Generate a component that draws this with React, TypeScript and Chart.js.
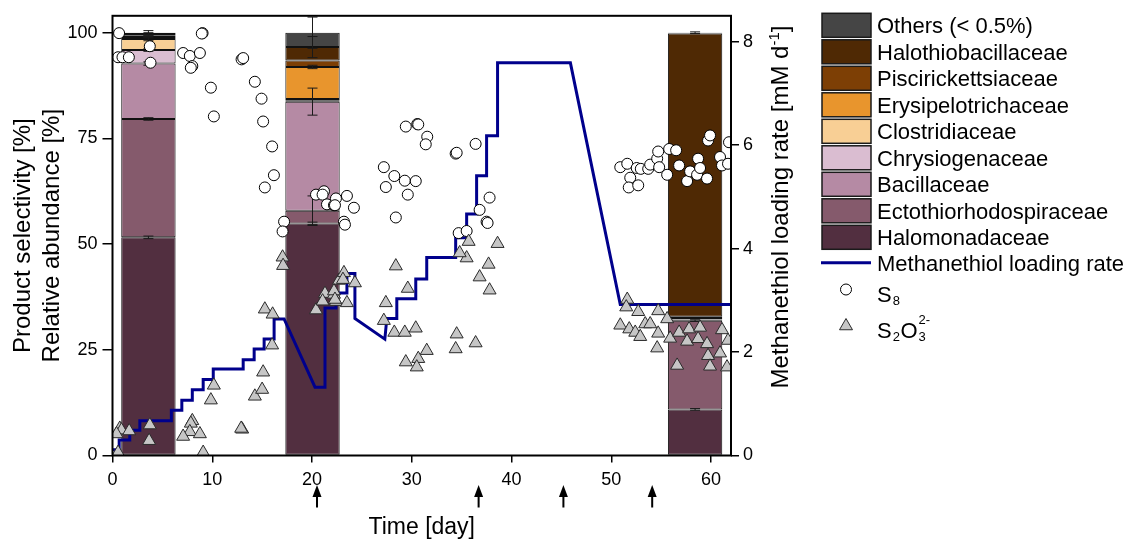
import React, { useEffect, useRef } from 'react';
import { Chart, registerables } from 'chart.js';

Chart.register(...registerables);

// ---------------- data ----------------
const barDays = [3.6, 20.05, 58.4];

const familyNames = [
  'Halomonadaceae',
  'Ectothiorhodospiraceae',
  'Bacillaceae',
  'Chrysiogenaceae',
  'Clostridiaceae',
  'Erysipelotrichaceae',
  'Piscirickettsiaceae',
  'Halothiobacillaceae',
  'Others (< 0.5%)',
];

const halomonadaceae = [51.6, 54.9, 10.9];
const ectothiorhodospiraceae = [28.0, 3.0, 21.0];
const bacillaceae = [13.1, 25.8, 0.2];
const chrysiogenaceae = [3.2, 0.3, 0.1];
const clostridiaceae = [2.6, 0.3, 0.1];
const erysipelotrichaceae = [0.5, 7.6, 0.2];
const piscirickettsiaceae = [0.3, 1.5, 0.3];
const halothiobacillaceae = [0.4, 3.2, 67.0];
const others = [0.3, 3.4, 0.2];

const halomonadaceaeErr = [0.3, 0.3, 0.2];
const ectothiorhodospiraceaeErr = [0.3, 3.5, 0.2];
const bacillaceaeErr = [0.4, 3.2, 0];
const chrysiogenaceaeErr = [0.3, 0, 0];
const clostridiaceaeErr = [0.4, 0, 0];
const erysipelotrichaceaeErr = [0.2, 0.4, 0];
const piscirickettsiaceaeErr = [0.2, 0, 0];
const halothiobacillaceaeErr = [0.3, 2.5, 0];
const othersErr = [0.5, 3.7, 0.2];

const loadingDays = [0, 0.67, 0.67, 1.73, 1.73, 2.74, 2.74, 5.9, 5.9, 6.95, 6.95, 8.0, 8.0, 9.09, 9.09, 10.1, 10.1, 13.1, 13.1, 14.2, 14.2, 15.2, 15.2, 16.2, 16.2, 17.2, 20.3, 21.3, 21.3, 22.4, 22.4, 23.5, 23.5, 24.3, 24.3, 27.3, 27.5, 28.5, 28.5, 30.4, 30.4, 31.5, 31.5, 34.4, 34.4, 35.5, 35.5, 36.5, 36.5, 37.5, 37.5, 38.6, 38.6, 45.9, 50.9, 62];
const loadingRate = [0.11, 0.11, 0.30, 0.30, 0.49, 0.49, 0.67, 0.67, 0.875, 0.875, 1.07, 1.07, 1.27, 1.27, 1.47, 1.47, 1.67, 1.67, 1.85, 1.85, 2.06, 2.06, 2.25, 2.25, 2.64, 2.64, 1.32, 1.32, 2.85, 2.85, 3.14, 3.14, 3.52, 3.52, 2.65, 2.25, 2.65, 2.65, 3.03, 3.03, 3.41, 3.41, 3.83, 3.83, 4.21, 4.21, 4.67, 4.67, 5.41, 5.41, 6.18, 6.18, 7.59, 7.59, 2.92, 2.92];

const s8Days = [0.66, 0.56, 1.0, 1.64, 3.74, 3.81, 9.03, 8.95, 7.08, 7.75, 8.76, 8.0, 7.85, 9.86, 10.16, 12.94, 13.1, 14.27, 14.94, 15.1, 16.0, 16.18, 15.27, 17.2, 17.05, 20.4, 21.2, 21.06, 21.5, 22.2, 22.4, 23.5, 22.3, 24.2, 23.2, 23.3, 29.4, 30.55, 30.65, 31.55, 31.4, 27.2, 28.25, 29.3, 30.4, 27.4, 29.6, 28.4, 34.4, 34.5, 36.4, 37.8, 36.8, 37.5, 37.6, 34.7, 35.5, 50.9, 51.6, 51.9, 51.75, 52.7, 52.55, 52.96, 53.7, 53.9, 54.6, 54.7, 54.8, 55.6, 55.8, 56.5, 56.8, 57.6, 57.9, 58.6, 58.7, 58.9, 59.6, 59.7, 59.9, 60.9, 61.1, 61.8, 61.7];
const s8Values = [99.9, 94.2, 94.2, 94.2, 96.8, 92.9, 99.9, 99.8, 95.2, 94.5, 95.2, 92.1, 91.7, 87.0, 80.2, 93.7, 94.0, 88.4, 84.4, 79.0, 73.1, 66.3, 63.4, 55.3, 53.0, 61.7, 62.5, 61.7, 59.4, 59.2, 60.8, 61.4, 59.2, 58.6, 55.3, 54.6, 77.8, 78.4, 78.3, 75.4, 73.6, 68.2, 66.1, 65.0, 64.9, 63.5, 61.7, 56.3, 71.4, 71.6, 73.7, 61.0, 58.1, 55.3, 55.0, 52.6, 53.1, 68.2, 69.0, 65.7, 63.4, 63.9, 68.0, 67.8, 67.8, 68.8, 70.2, 71.9, 68.2, 66.4, 72.5, 72.2, 68.6, 64.9, 67.2, 66.4, 70.2, 68.0, 65.5, 74.5, 75.7, 70.6, 68.6, 74.1, 69.0];

const s2o3Days = [0.73, 0.9, 0.4, 1.67, 0.56, 3.74, 3.67, 8.0, 7.85, 7.75, 8.76, 7.08, 9.09, 9.86, 10.16, 13.0, 12.9, 14.27, 15.0, 15.1, 15.27, 16.05, 16.0, 17.05, 17.1, 20.4, 21.3, 21.06, 22.2, 22.4, 22.7, 23.2, 23.1, 24.3, 22.2, 22.3, 23.5, 28.4, 29.6, 27.4, 27.2, 28.25, 29.3, 30.4, 31.5, 29.4, 30.65, 30.5, 34.5, 34.4, 36.4, 35.7, 35.5, 34.8, 38.6, 37.7, 36.8, 37.8, 51.6, 51.5, 52.7, 50.9, 51.8, 52.4, 52.9, 53.4, 53.9, 54.7, 55.6, 54.7, 55.9, 54.6, 56.8, 57.8, 58.9, 57.6, 58.7, 59.6, 61.1, 61.7, 59.7, 60.9, 56.6, 59.9, 61.6];
const s2o3Values = [6.4, 6.0, 5.1, 5.8, 0.7, 7.2, 3.5, 8.2, 7.6, 5.6, 5.1, 4.5, 0.7, 13.1, 16.6, 6.2, 6.4, 14.0, 15.6, 19.7, 34.6, 33.4, 26.1, 46.9, 44.9, 34.4, 38.3, 36.5, 38.1, 36.4, 41.4, 43.2, 41.6, 40.8, 38.9, 36.9, 36.1, 44.8, 39.5, 36.1, 31.9, 29.1, 29.1, 30.1, 24.8, 22.1, 22.9, 20.9, 28.7, 25.2, 26.6, 50.6, 46.7, 47.9, 50.1, 45.2, 42.2, 39.1, 36.9, 35.1, 34.0, 30.8, 29.9, 29.1, 28.1, 31.1, 31.1, 34.2, 32.3, 28.9, 27.7, 25.4, 29.1, 29.9, 30.3, 27.0, 27.6, 26.4, 29.7, 27.2, 23.6, 24.2, 21.3, 21.1, 20.9];

const arrowDays = [20.5, 36.7, 45.2, 54.1];

const xTickStep = 10;
const yTickStep = 25;
const y1TickStep = 2;

// ---------------- styles ----------------
const familyValues = [halomonadaceae, ectothiorhodospiraceae, bacillaceae, chrysiogenaceae, clostridiaceae, erysipelotrichaceae, piscirickettsiaceae, halothiobacillaceae, others];
const familyErrors = [halomonadaceaeErr, ectothiorhodospiraceaeErr, bacillaceaeErr, chrysiogenaceaeErr, clostridiaceaeErr, erysipelotrichaceaeErr, piscirickettsiaceaeErr, halothiobacillaceaeErr, othersErr];
const familyColors = ['#522f40', '#855a6c', '#b58aa4', '#dabdd1', '#f8cf95', '#e8952d', '#7d3f05', '#4f2904', '#454545'];

const FONT = '"Liberation Sans", Arial, Helvetica, sans-serif';
const LINE_COLOR = '#00008c';
const TRI_FILL = '#c6c6c6';
const TRI_BORDER = '#2a2a2a';

function keepStepTicks(step: number) {
  return (s: any) => {
    s.ticks = s.ticks.filter((t: any) => Math.abs(t.value / step - Math.round(t.value / step)) < 1e-6);
  };
}

function drawTriangle(ctx: CanvasRenderingContext2D, x: number, y: number, r: number) {
  ctx.beginPath();
  ctx.moveTo(x, y - r);
  ctx.lineTo(x + 0.866 * r, y + 0.5 * r);
  ctx.lineTo(x - 0.866 * r, y + 0.5 * r);
  ctx.closePath();
  ctx.fillStyle = TRI_FILL;
  ctx.fill();
  ctx.strokeStyle = TRI_BORDER;
  ctx.lineWidth = 1;
  ctx.stroke();
}

const overlayPlugin = {
  id: 'overlay',
  afterDatasetDraw(chart: any, args: any) {
    if (args.index !== 0) return;
    const ctx: CanvasRenderingContext2D = chart.ctx;
    const xs = chart.scales.x;
    const ys = chart.scales.y;
    ctx.save();
    ctx.strokeStyle = '#1a1a1a';
    ctx.lineWidth = 1;
    barDays.forEach((d, j) => {
      const px = xs.getPixelForValue(d);
      let cum = 0;
      familyValues.forEach((vals, k) => {
        cum += vals[j];
        const e = familyErrors[k][j];
        if (e > 0) {
          const yT = ys.getPixelForValue(cum + e);
          const yB = ys.getPixelForValue(cum - e);
          ctx.beginPath();
          ctx.moveTo(px, yT);
          ctx.lineTo(px, yB);
          ctx.moveTo(px - 5, yT);
          ctx.lineTo(px + 5, yT);
          ctx.moveTo(px - 5, yB);
          ctx.lineTo(px + 5, yB);
          ctx.stroke();
        }
      });
    });
    ctx.restore();
  },
  afterDraw(chart: any) {
    const ctx: CanvasRenderingContext2D = chart.ctx;
    const { left, top, right, bottom } = chart.chartArea;
    const xs = chart.scales.x;
    ctx.save();
    // frame
    ctx.strokeStyle = '#000';
    ctx.lineWidth = 2;
    ctx.strokeRect(left, top, right - left, bottom - top);

    // arrows under the time axis
    ctx.fillStyle = '#000';
    arrowDays.forEach((d) => {
      const px = xs.getPixelForValue(d);
      ctx.fillRect(px - 1, 495, 2, 12.5);
      ctx.beginPath();
      ctx.moveTo(px, 485);
      ctx.lineTo(px + 4.5, 497);
      ctx.lineTo(px - 4.5, 497);
      ctx.closePath();
      ctx.fill();
    });

    // right axis title (reads bottom to top, with superscript)
    ctx.save();
    ctx.translate(788, 207);
    ctx.rotate(-Math.PI / 2);
    ctx.fillStyle = '#000';
    ctx.textBaseline = 'alphabetic';
    ctx.textAlign = 'left';
    const mainFont = `24px ${FONT}`;
    const supFont = `15px ${FONT}`;
    const t1 = 'Methanethiol loading rate [mM d';
    const t2 = '-1';
    const t3 = ']';
    ctx.font = mainFont;
    const w1 = ctx.measureText(t1).width;
    const w3 = ctx.measureText(t3).width;
    ctx.font = supFont;
    const w2 = ctx.measureText(t2).width;
    let cx = -(w1 + w2 + w3) / 2;
    ctx.font = mainFont;
    ctx.fillText(t1, cx, 0);
    cx += w1;
    ctx.font = supFont;
    ctx.fillText(t2, cx, -9);
    cx += w2;
    ctx.font = mainFont;
    ctx.fillText(t3, cx, 0);
    ctx.restore();

    // legend
    const boxX = 822;
    const boxW = 49;
    const boxH = 24;
    const legTop = 13.3;
    const step = 26.5;
    const textX = 877;
    const legFont = `22px ${FONT}`;
    const subFont = `13px ${FONT}`;
    ctx.textBaseline = 'alphabetic';
    ctx.textAlign = 'left';
    for (let i = 0; i < familyNames.length; i++) {
      const k = familyNames.length - 1 - i;
      const y0 = legTop + i * step;
      ctx.fillStyle = familyColors[k];
      ctx.fillRect(boxX, y0, boxW, boxH);
      ctx.strokeStyle = '#1a1a1a';
      ctx.lineWidth = 1.5;
      ctx.strokeRect(boxX, y0, boxW, boxH);
      ctx.fillStyle = '#000';
      ctx.font = legFont;
      ctx.fillText(familyNames[k], textX, y0 + boxH / 2 + 8);
    }
    // line entry
    ctx.strokeStyle = LINE_COLOR;
    ctx.lineWidth = 3;
    ctx.beginPath();
    ctx.moveTo(821, 262.7);
    ctx.lineTo(871, 262.7);
    ctx.stroke();
    ctx.fillStyle = '#000';
    ctx.font = legFont;
    ctx.fillText('Methanethiol loading rate', textX, 270.5);

    // S8 entry
    ctx.beginPath();
    ctx.arc(846, 289.5, 5.5, 0, Math.PI * 2);
    ctx.fillStyle = '#fff';
    ctx.fill();
    ctx.strokeStyle = '#000';
    ctx.lineWidth = 1;
    ctx.stroke();
    ctx.fillStyle = '#000';
    ctx.font = legFont;
    ctx.fillText('S', textX, 302);
    let sx = textX + ctx.measureText('S').width + 1;
    ctx.font = subFont;
    ctx.fillText('8', sx, 305);

    // S2O3 entry
    drawTriangle(ctx, 846, 326, 7.5);
    ctx.fillStyle = '#000';
    ctx.font = legFont;
    ctx.fillText('S', textX, 337.5);
    sx = textX + ctx.measureText('S').width + 1;
    ctx.font = subFont;
    ctx.fillText('2', sx, 341);
    sx += ctx.measureText('2').width + 0.5;
    ctx.font = legFont;
    ctx.fillText('O', sx, 337.5);
    sx += ctx.measureText('O').width + 1;
    ctx.font = subFont;
    ctx.fillText('3', sx, 341);
    ctx.fillText('2-', sx, 324);

    ctx.restore();
  },
};

export default function App() {
  const canvasRef = useRef<HTMLCanvasElement>(null);

  useEffect(() => {
    if (!canvasRef.current) return;
    Chart.defaults.font.family = FONT;
    Chart.defaults.color = '#000';

    const barSets = familyNames.map((name, k) => ({
      type: 'bar' as const,
      label: name,
      data: barDays.map((d, j) => ({ x: d, y: familyValues[k][j] })),
      backgroundColor: familyColors[k],
      borderColor: '#111',
      borderWidth: 1,
      borderSkipped: false,
      barPercentage: 0.545,
      categoryPercentage: 1,
      xAxisID: 'x',
      yAxisID: 'y',
      order: 10,
    }));

    const lineSet = {
      type: 'line' as const,
      label: 'Methanethiol loading rate',
      data: loadingDays.map((d, i) => ({ x: d, y: loadingRate[i] })),
      borderColor: LINE_COLOR,
      backgroundColor: LINE_COLOR,
      borderWidth: 3,
      pointRadius: 0,
      tension: 0,
      fill: false,
      xAxisID: 'x',
      yAxisID: 'y1',
      order: 2,
    };

    const s8Set = {
      type: 'scatter' as const,
      label: 'S8',
      data: s8Days.map((d, i) => ({ x: d, y: s8Values[i] })),
      pointStyle: 'circle',
      pointRadius: 5.5,
      pointBackgroundColor: '#fff',
      pointBorderColor: '#000',
      pointBorderWidth: 1,
      backgroundColor: '#fff',
      borderColor: '#000',
      showLine: false,
      clip: 0,
      xAxisID: 'x',
      yAxisID: 'yPts',
      order: 1,
    };

    const s2o3Set = {
      type: 'scatter' as const,
      label: 'S2O3 2-',
      data: s2o3Days.map((d, i) => ({ x: d, y: s2o3Values[i] })),
      pointStyle: 'triangle',
      pointRadius: 7.5,
      pointBackgroundColor: TRI_FILL,
      pointBorderColor: TRI_BORDER,
      pointBorderWidth: 1,
      backgroundColor: TRI_FILL,
      borderColor: TRI_BORDER,
      showLine: false,
      clip: 0,
      xAxisID: 'x',
      yAxisID: 'yPts',
      order: 0,
    };

    const chart = new Chart(canvasRef.current, {
      type: 'bar',
      data: { datasets: [...barSets, lineSet, s8Set, s2o3Set] as any },
      options: {
        animation: false,
        responsive: false,
        maintainAspectRatio: false,
        devicePixelRatio: 1,
        events: [],
        layout: { padding: { top: 12.5, right: 334, bottom: 0, left: 0 } },
        plugins: { legend: { display: false }, tooltip: { enabled: false }, title: { display: false } },
        scales: {
          x: {
            type: 'linear',
            position: 'bottom',
            min: 0,
            max: 62,
            bounds: 'data',
            offset: false,
            stacked: true,
            ticks: { stepSize: xTickStep, includeBounds: false, font: { size: 18 }, color: '#000', padding: 7, maxRotation: 0, autoSkip: false },
            grid: { drawOnChartArea: false, drawTicks: true, tickLength: 7, color: '#000', lineWidth: 1.5, offset: false },
            border: { display: false },
            title: { display: true, text: 'Time [day]', font: { size: 23 }, color: '#000', padding: { top: 0, bottom: 1 } },
            afterBuildTicks: keepStepTicks(xTickStep),
            afterFit: (s: any) => { s.height = 86.5; },
          },
          y: {
            type: 'linear',
            position: 'left',
            min: 0,
            max: 104,
            bounds: 'data',
            stacked: true,
            ticks: { stepSize: yTickStep, includeBounds: false, font: { size: 18 }, color: '#000', padding: 5 },
            grid: { drawOnChartArea: false, drawTicks: true, tickLength: 10, color: '#000', lineWidth: 1.5 },
            border: { display: false },
            title: { display: true, text: ['Product selectivity [%]', 'Relative abundance [%]'], font: { size: 24, lineHeight: 1.2 }, color: '#000', padding: { top: 9, bottom: 0 } },
            afterBuildTicks: keepStepTicks(yTickStep),
            afterFit: (s: any) => { s.width = 112.5; },
          },
          y1: {
            type: 'linear',
            position: 'right',
            min: 0,
            max: 8.5,
            bounds: 'data',
            ticks: { stepSize: y1TickStep, includeBounds: false, font: { size: 18 }, color: '#000', padding: 4 },
            grid: { drawOnChartArea: false, drawTicks: true, tickLength: 8, color: '#000', lineWidth: 1.5 },
            border: { display: false },
            title: { display: false },
            afterBuildTicks: keepStepTicks(y1TickStep),
            afterFit: (s: any) => { s.width = 60; },
          },
          yPts: {
            type: 'linear',
            display: false,
            min: 0,
            max: 104,
            bounds: 'data',
          },
        },
      } as any,
      plugins: [overlayPlugin],
    });

    return () => chart.destroy();
  }, []);

  return (
    <div style={{ position: 'fixed', left: 0, top: 0, width: 1125, height: 542, background: '#fff' }}>
      <canvas ref={canvasRef} width={1125} height={542} style={{ display: 'block' }} />
    </div>
  );
}
